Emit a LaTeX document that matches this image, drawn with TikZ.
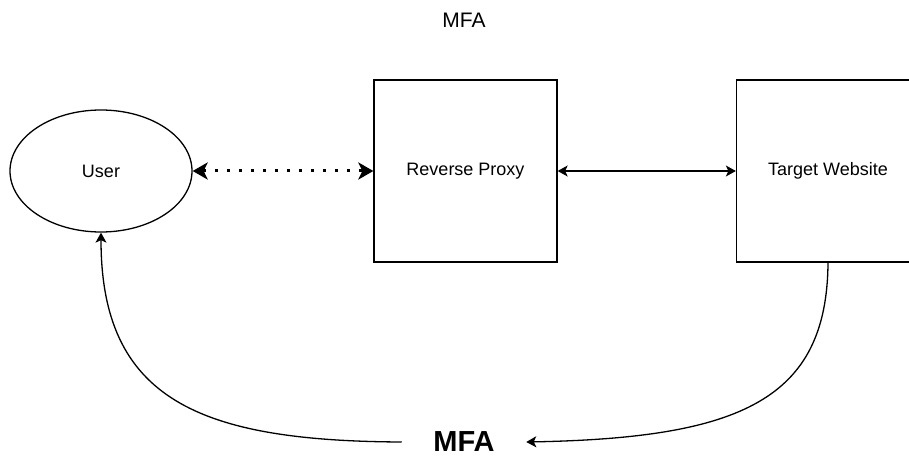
\documentclass[tikz,border=0pt]{standalone}
\usepackage{fontspec}
\setmainfont{Liberation Sans}
\usetikzlibrary{shapes.geometric,arrows.meta}

\begin{document}
\begin{tikzpicture}[x=1pt,y=-1pt,line width=1.3pt,
  box/.style={draw,minimum width=183pt,minimum height=182pt,inner sep=0pt,font=\fontsize{18}{20}\selectfont},
  usernode/.style={draw,ellipse,minimum width=182pt,minimum height=122pt,inner sep=0pt,font=\fontsize{18}{20}\selectfont},
  tip/.style={-{Stealth[length=10pt,width=11pt,inset=2.5pt]}},
  dots/.style={line width=3pt,dash pattern=on 3pt off 9pt,{Stealth[length=15pt,width=17pt,inset=4pt]}-{Stealth[length=15pt,width=17pt,inset=4pt]}}]
\useasboundingbox (0,0) rectangle (909,457);
\clip (0,0) rectangle (909,457);
\node[font=\fontsize{21}{24}\selectfont] (title) at (464,20) {MFA};
\node[usernode] (user) at (101,171) {User};
\node[box] (proxy) at (465.5,171) {Reverse Proxy};
\node[box] (target) at (828,171) {Target Website};
\node[font=\bfseries\fontsize{29}{32}\selectfont,inner xsep=31pt,inner ysep=2pt] (mfa) at (464,442) {MFA};
\draw[dots] (user.east) -- (proxy.west);
\draw[tip,<->,>={Stealth[length=10pt,width=11pt,inset=2.5pt]}] (proxy.east) -- (target.west);
% curved edges through the bottom label
\draw[tip] (target.south) .. controls (827,400) and (740,438) .. (mfa.east);
\draw[tip] (mfa.west) .. controls (200,441) and (101,400) .. (user.south);
\end{tikzpicture}
\end{document}
